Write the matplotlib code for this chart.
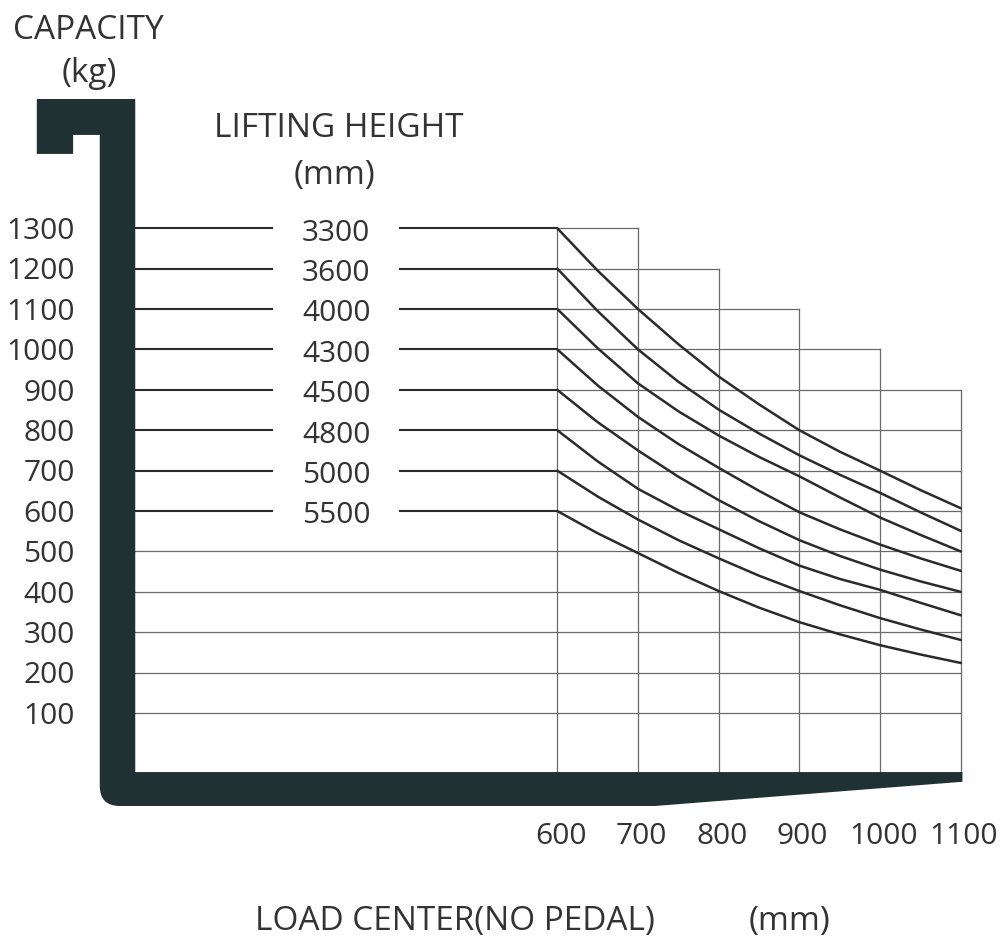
import numpy as np
import matplotlib.pyplot as plt
from matplotlib.path import Path
from matplotlib.patches import PathPatch

plt.rcParams['font.family'] = ['Open Sans', 'DejaVu Sans']

# load center (mm) where the curves were read
load_centers = [600, 650, 700, 750, 800, 850, 900, 950, 1000, 1050, 1100]

# lifting heights (mm) and the capacity (kg) read for each one
lift_heights = ['3300', '3600', '4000', '4300', '4500', '4800', '5000', '5500']
cap_3300 = [1300, 1195, 1100, 1013, 933, 864, 800, 747, 700, 652, 607]
cap_3600 = [1200, 1095, 1000, 920, 851, 792, 738, 690, 645, 597, 551]
cap_4000 = [1100, 1003, 916, 847, 787, 734, 686, 634, 584, 541, 500]
cap_4300 = [1000, 911, 833, 766, 707, 650, 597, 555, 517, 483, 452]
cap_4500 = [900, 820, 750, 685, 627, 575, 528, 489, 455, 426, 400]
cap_4800 = [800, 723, 655, 602, 555, 508, 465, 432, 405, 373, 342]
cap_5000 = [700, 636, 579, 528, 483, 440, 402, 367, 335, 307, 281]
cap_5500 = [600, 545, 496, 447, 402, 361, 325, 295, 268, 245, 224]
curves = [cap_3300, cap_3600, cap_4000, cap_4300, cap_4500, cap_4800, cap_5000, cap_5500]

# axis ticks
y_ticks = [100, 200, 300, 400, 500, 600, 700, 800, 900, 1000, 1100, 1200, 1300]
x_ticks = [600, 700, 800, 900, 1000, 1100]

# stepped grid: how far right each upper row reaches
step_levels = [1300, 1200, 1100, 1000, 900]
step_right = [700, 800, 900, 1000, 1100]

text_color = '#333333'
grid_color = '#6a6a6a'
line_color = '#2b2b2b'
fork_color = '#203133'

fig = plt.figure(figsize=(10.07, 9.47), dpi=100)
ax = fig.add_axes([0, 0, 1, 1])
ax.set_xlim(-90.6, 1157.2)
ax.set_ylim(-479, 1865)
ax.axis('off')

fork_x = 77     # inner edge of the fork upright
bar_top = -46   # upper edge of the fork blade

# thin grid, lower rows (full width)
for lvl in y_ticks:
    if lvl <= 500:
        ax.plot([fork_x, x_ticks[-1]], [lvl, lvl], color=grid_color, lw=0.9, zorder=1)
    elif lvl <= 800:
        ax.plot([x_ticks[0], x_ticks[-1]], [lvl, lvl], color=grid_color, lw=0.9, zorder=1)
for lvl, xr in zip(step_levels, step_right):
    ax.plot([x_ticks[0], xr], [lvl, lvl], color=grid_color, lw=0.9, zorder=1)

# vertical grid
ax.plot([600, 600], [bar_top, 1300], color=grid_color, lw=0.9, zorder=1)
for lvl, xr in zip(step_levels, step_right):
    ax.plot([xr, xr], [bar_top, lvl], color=grid_color, lw=0.9, zorder=1)

# rated capacity lines with lifting height labels
for h, c in zip(lift_heights, curves):
    ax.plot([fork_x, 246], [c[0], c[0]], color=line_color, lw=1.5, zorder=2)
    ax.plot([405, 600], [c[0], c[0]], color=line_color, lw=1.5, zorder=2)
    ax.text(326, c[0] - 12, h, ha='center', va='center', fontsize=21.5, color=text_color)

# capacity curves
for c in curves:
    ax.plot(load_centers, c, color=line_color, lw=1.8, zorder=3,
            solid_capstyle='round', solid_joinstyle='round')

# fork shape
verts = [(-45, 1620), (fork_x, 1620), (fork_x, bar_top), (1102, bar_top), (1102, -70),
         (721, -130), (58, -130), (33, -130), (33, -80), (33, 1531), (0, 1531),
         (0, 1484), (-45, 1484), (-45, 1620)]
codes = [Path.MOVETO, Path.LINETO, Path.LINETO, Path.LINETO, Path.LINETO,
         Path.LINETO, Path.LINETO, Path.CURVE3, Path.CURVE3, Path.LINETO, Path.LINETO,
         Path.LINETO, Path.LINETO, Path.CLOSEPOLY]
ax.add_patch(PathPatch(Path(verts, codes), facecolor=fork_color, edgecolor='none', zorder=4))

# tick labels
for v in y_ticks:
    ax.text(2, v - 8, str(v), ha='right', va='center', fontsize=21.5, color=text_color)
for v in x_ticks:
    ax.text(v + 4, -205, str(v), ha='center', va='center', fontsize=21.5, color=text_color)

# titles
ax.text(18.5, 1790, 'CAPACITY', ha='center', va='center', fontsize=24, color=text_color)
ax.text(20.5, 1682, '(kg)', ha='center', va='center', fontsize=24, color=text_color)
ax.text(329.5, 1546, 'LIFTING HEIGHT', ha='center', va='center', fontsize=24, color=text_color)
ax.text(324.5, 1430, '(mm)', ha='center', va='center', fontsize=24, color=text_color)
ax.text(473, -417, 'LOAD CENTER(NO PEDAL)', ha='center', va='center', fontsize=24, color=text_color)
ax.text(888, -417, '(mm)', ha='center', va='center', fontsize=24, color=text_color)

fig.savefig('out.png', dpi=100, facecolor='white')
